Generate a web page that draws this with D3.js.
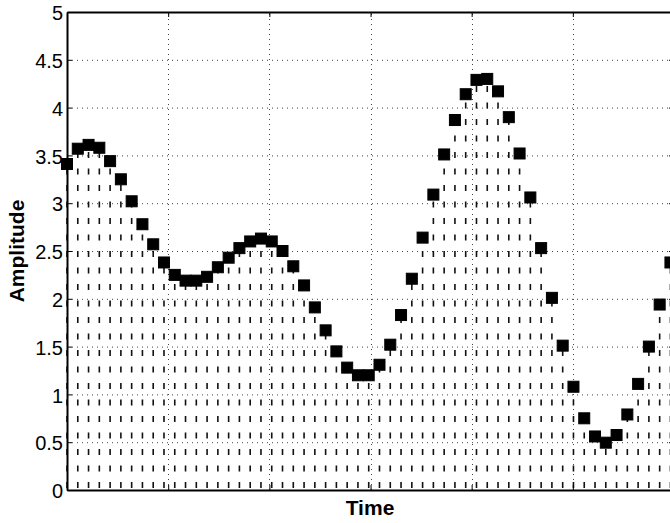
<!DOCTYPE html>
<html>
<head>
<meta charset="utf-8">
<script src="https://cdn.jsdelivr.net/npm/d3@7"></script>
<style>
  body { margin: 0; background: #fff; }
  svg { display: block; font-family: "Liberation Sans", Arial, Helvetica, sans-serif; }
</style>
</head>
<body>
<svg id="chart" width="670" height="523"></svg>
<script>
const amplitude = [
  3.41, 3.57, 3.61, 3.58, 3.44, 3.25, 3.02, 2.78, 2.57, 2.38,
  2.25, 2.19, 2.19, 2.23, 2.33, 2.43, 2.53, 2.60, 2.63, 2.60,
  2.50, 2.34, 2.14, 1.91, 1.67, 1.45, 1.28, 1.20, 1.20, 1.31,
  1.52, 1.83, 2.21, 2.64, 3.09, 3.51, 3.87, 4.14, 4.29, 4.30,
  4.17, 3.90, 3.52, 3.06, 2.53, 2.01, 1.51, 1.08, 0.75, 0.56,
  0.495, 0.575, 0.79, 1.11, 1.50, 1.94, 2.38
]
const sampleIdx = d3.range(amplitude.length)

// x limits / grid positions in sample units (no labels on the time axis)
const timeDomain = [0, 56.33]
const timeTicks = [0, 9.39, 18.78, 28.17, 37.55, 46.94, 56.33]
const ampTicks = [0, 0.5, 1, 1.5, 2, 2.5, 3, 3.5, 4, 4.5, 5]

const mLeft = 67, mRight = 674, mTop = 12, mBottom = 490

const svg = d3.select("#chart")

let x = d3.scaleLinear().domain(timeDomain).range([mLeft, mRight])
let y = d3.scaleLinear().domain([0, 5]).range([mBottom, mTop])

// dotted grid
let grid = svg.append("g").attr("class", "grid")
  .attr("stroke", "#444").attr("stroke-width", 1).attr("stroke-dasharray", "1,4")

grid.selectAll("line.h").data(ampTicks.slice(1, -1)).enter()
  .append("line").attr("class", "h")
  .attr("x1", mLeft).attr("x2", mRight)
  .attr("y1", d => y(d) + 0.5).attr("y2", d => y(d) + 0.5)

grid.selectAll("line.v").data(timeTicks.slice(1, -1)).enter()
  .append("line").attr("class", "v")
  .attr("x1", d => Math.round(x(d)) + 0.5).attr("x2", d => Math.round(x(d)) + 0.5)
  .attr("y1", mBottom).attr("y2", mTop)

// stems, dashed from the baseline up
svg.append("g").selectAll("line").data(sampleIdx).enter()
  .append("line")
  .attr("x1", i => x(i)).attr("x2", i => x(i))
  .attr("y1", y(0)).attr("y2", i => y(amplitude[i]))
  .attr("stroke", "#111")
  .attr("stroke-width", 1.6)
  .attr("stroke-dasharray", "6,10.5")
  .attr("stroke-dashoffset", 14.5)

// square markers
let mk = 11
svg.append("g").selectAll("rect").data(sampleIdx).enter()
  .append("rect")
  .attr("x", i => x(i) - mk / 2)
  .attr("y", i => y(amplitude[i]) - mk / 2)
  .attr("width", mk).attr("height", mk)
  .attr("fill", "#000").attr("stroke", "#000").attr("stroke-width", 1)

// axes (box with inward ticks)
let yAxis = d3.axisLeft(y).tickValues(ampTicks).tickFormat(d => String(d))
  .tickSizeInner(-5).tickSizeOuter(0).tickPadding(4)
let gy = svg.append("g").attr("transform", `translate(${mLeft},0)`).call(yAxis)
gy.selectAll("text").attr("font-size", 20).attr("fill", "#000").attr("dy", "0.38em")

svg.append("g").attr("transform", `translate(${mRight},0)`)
  .call(d3.axisRight(y).tickValues(ampTicks).tickFormat("").tickSizeInner(-5).tickSizeOuter(0))

svg.append("g").attr("transform", `translate(0,${mBottom})`)
  .call(d3.axisBottom(x).tickValues(timeTicks).tickFormat("").tickSizeInner(-5).tickSizeOuter(0))

svg.append("g").attr("transform", `translate(0,${mTop})`)
  .call(d3.axisTop(x).tickValues(timeTicks).tickFormat("").tickSizeInner(-5).tickSizeOuter(0))

svg.selectAll(".domain").attr("stroke", "#000").attr("stroke-width", 2)
svg.selectAll(".tick line").attr("stroke", "#000").attr("stroke-width", 1)

// labels
svg.append("text")
  .attr("x", (mLeft + mRight) / 2 - 0.5).attr("y", 515)
  .attr("text-anchor", "middle")
  .attr("font-size", 21).attr("font-weight", "bold")
  .text("Time")

svg.append("text")
  .attr("transform", `translate(24,${(mTop + mBottom) / 2}) rotate(-90)`)
  .attr("text-anchor", "middle")
  .attr("font-size", 21).attr("font-weight", "bold")
  .text("Amplitude")
</script>
</body>
</html>
